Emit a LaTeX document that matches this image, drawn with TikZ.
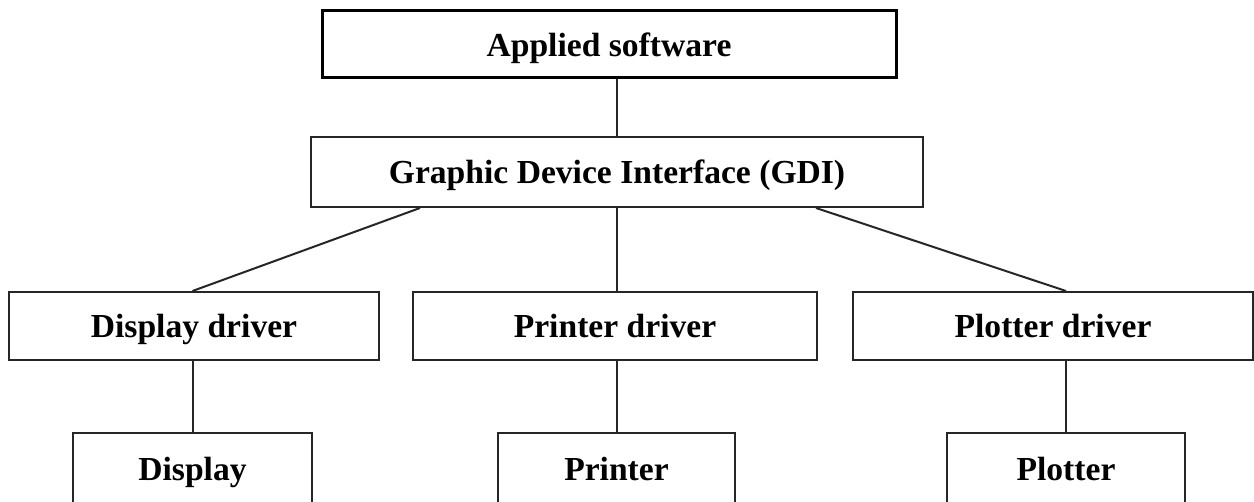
\documentclass[tikz,border=0pt]{standalone}
\usepackage{fontspec}
\setmainfont{Liberation Serif}
\usetikzlibrary{calc}
\begin{document}
\begin{tikzpicture}[x=1pt,y=-1pt,
  box/.style={draw=black!85, line width=2pt, fill=white, inner sep=0pt,
    text height=24pt, text depth=0pt,
    font=\fontsize{33.6}{40}\selectfont\bfseries},
  conn/.style={draw=black!85, line width=2pt}]
\useasboundingbox (0,0) rectangle (1254,502);
\clip (0,0) rectangle (1254,502);
\fill[white] (0,0) rectangle (1254,502);
% nodes
\node[box, line width=3pt, draw=black, minimum width=574pt, minimum height=67pt] (app) at (609,44.5) {Applied software};
\node[box, minimum width=612pt, minimum height=70pt] (gdi) at (617,172) {Graphic Device Interface (GDI)};
\node[box, minimum width=370pt, minimum height=68pt] (dd) at (194,326) {Display driver};
\node[box, minimum width=404pt, minimum height=68pt] (pd) at (615,326) {Printer driver};
\node[box, minimum width=400pt, minimum height=68pt] (pld) at (1053,326) {Plotter driver};
\node[box, minimum width=239pt, minimum height=72pt] (disp) at (192.5,469) {Display};
\node[box, minimum width=237pt, minimum height=72pt] (prn) at (616.5,469) {Printer};
\node[box, minimum width=238pt, minimum height=72pt] (plt) at (1066,469) {Plotter};
% connectors
\coordinate (gl) at ($(gdi.south)+(-197,0)$);
\coordinate (gr) at ($(gdi.south)+(199,0)$);
\draw[conn] (gdi.north) -- (gdi.north |- app.south);
\draw[conn] (gl) -- (disp.north |- dd.north);
\draw[conn] (prn.north |- gdi.south) -- (prn.north |- pd.north);
\draw[conn] (gr) -- (plt.north |- pld.north);
\draw[conn] (disp.north |- dd.south) -- (disp.north);
\draw[conn] (prn.north |- pd.south) -- (prn.north);
\draw[conn] (plt.north |- pld.south) -- (plt.north);
\end{tikzpicture}
\end{document}
